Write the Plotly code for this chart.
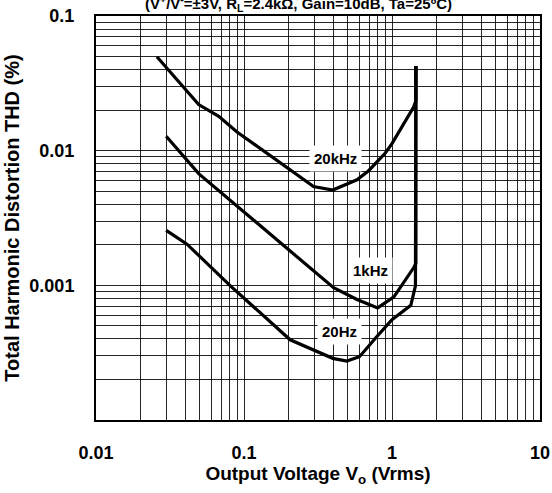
import math
import plotly.graph_objects as go

# ---- data ----
v_20khz = [0.0258, 0.0494, 0.0675, 0.0897, 0.295, 0.398, 0.580, 0.695, 0.901, 1.0, 1.40, 1.45, 1.45]
thd_20khz = [0.0498, 0.0220, 0.0180, 0.01377, 0.00542, 0.00510, 0.00608, 0.00710, 0.00961, 0.01127, 0.0211, 0.0235, 0.0425]

v_1khz = [0.0298, 0.0494, 0.403, 0.580, 0.80, 1.03, 1.40, 1.45, 1.45]
thd_1khz = [0.01279, 0.00675, 0.00096, 0.000785, 0.00068, 0.00082, 0.00135, 0.00145, 0.0425]

v_20hz = [0.0298, 0.0412, 0.0494, 0.0809, 0.205, 0.398, 0.495, 0.603, 0.791, 1.0, 1.34, 1.44, 1.45]
thd_20hz = [0.00256, 0.00202, 0.00167, 0.00099, 0.000394, 0.000287, 0.000274, 0.000295, 0.000417, 0.000556, 0.000711, 0.00099, 0.0425]

curve_labels = ["20kHz", "1kHz", "20Hz"]
label_x = [0.413, 0.72, 0.44]
label_y = [0.0088, 0.00128, 0.000454]

x_grid = [m * 10 ** e for e in (-2, -1, 0) for m in range(1, 10)] + [10]
x_ticktext = ["0.01"] + [""] * 8 + ["0.1"] + [""] * 8 + ["1"] + [""] * 8 + ["10"]
y_grid = [m * 10 ** e for e in (-4, -3, -2) for m in range(1, 10)] + [0.1]
y_ticktext = [""] * 9 + ["0.001"] + [""] * 8 + ["0.01"] + [""] * 8 + ["0.1"]

title_text = "(V<sup>+</sup>/V<sup>-</sup>=±3V, R<sub>L</sub>=2.4kΩ, Gain=10dB, Ta=25ºC)"

FONT = "Liberation Sans, Arial, sans-serif"

fig = go.Figure()
for xs, ys in [(v_20khz, thd_20khz), (v_1khz, thd_1khz), (v_20hz, thd_20hz)]:
    fig.add_trace(go.Scatter(x=xs, y=ys, mode="lines",
                             line=dict(color="black", width=3.2),
                             showlegend=False, hoverinfo="skip"))

for t, lx, ly in zip(curve_labels, label_x, label_y):
    fig.add_annotation(x=math.log10(lx), y=math.log10(ly), xref="x", yref="y",
                       text="<b>%s</b>" % t,
                       showarrow=False, bgcolor="white", borderpad=4,
                       font=dict(family=FONT, size=15, color="black"))

fig.add_annotation(x=0.455, y=1.03, xref="paper", yref="paper",
                   text="<b>%s</b>" % title_text, showarrow=False,
                   font=dict(family=FONT, size=15, color="black"),
                   xanchor="center", yanchor="middle")

fig.update_xaxes(type="log", range=[-2, 1], tickvals=x_grid, ticktext=x_ticktext,
                 showgrid=True, gridcolor="rgba(0,0,0,0.85)", gridwidth=1,
                 showline=True, linecolor="black", linewidth=2, mirror=True,
                 ticks="", ticklabelstandoff=15, zeroline=False, automargin=False,
                 tickfont=dict(family=FONT, size=18, color="black", weight="bold"),
                 title=dict(text="<b>Output Voltage V<sub>o</sub> (Vrms)</b>", standoff=5,
                            font=dict(family=FONT, size=19, color="black")))
fig.update_yaxes(type="log", range=[-4, -1], tickvals=y_grid, ticktext=y_ticktext,
                 showgrid=True, gridcolor="rgba(0,0,0,0.85)", gridwidth=1,
                 showline=True, linecolor="black", linewidth=2, mirror=True,
                 ticks="", ticklabelstandoff=16, zeroline=False, automargin=False,
                 tickfont=dict(family=FONT, size=18, color="black", weight="bold"),
                 title=dict(text="<b>Total Harmonic Distortion THD (%)</b>", standoff=4,
                            font=dict(family=FONT, size=20, color="black")))

fig.update_layout(width=552, height=493, margin=dict(l=96, r=12, t=16, b=73),
                  plot_bgcolor="white", paper_bgcolor="white",
                  font=dict(family=FONT, color="black"))

fig.write_html("out.html", config={"displayModeBar": False},
               post_script="document.body.style.margin='0';")
